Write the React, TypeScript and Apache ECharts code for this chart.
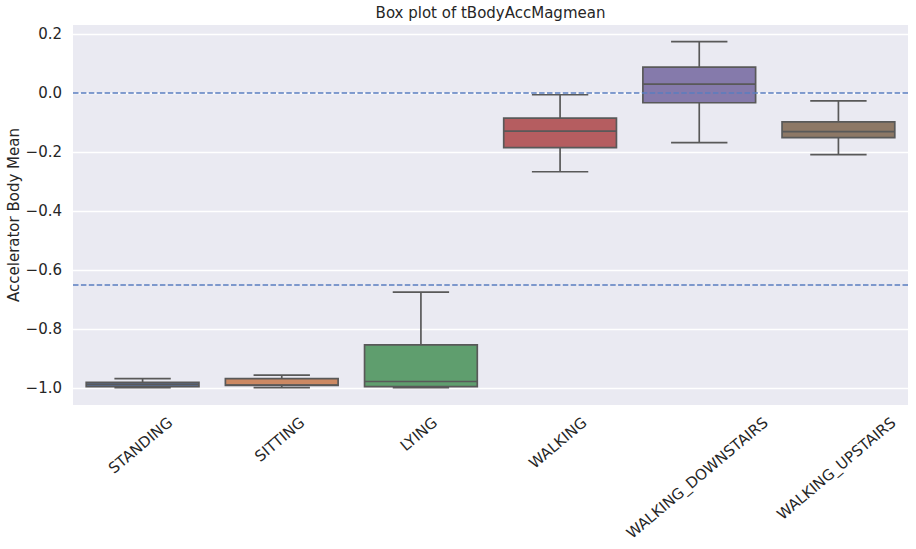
import React, { useEffect, useRef } from 'react';
import * as echarts from 'echarts';

const categories = ['STANDING', 'SITTING', 'LYING', 'WALKING', 'WALKING_DOWNSTAIRS', 'WALKING_UPSTAIRS'];
const whiskerLow = [-0.999, -0.999, -0.999, -0.267, -0.168, -0.209];
const q1 = [-0.995, -0.991, -0.995, -0.185, -0.033, -0.151];
const medians = [-0.988, -0.990, -0.978, -0.129, 0.030, -0.131];
const q3 = [-0.981, -0.968, -0.854, -0.085, 0.088, -0.098];
const whiskerHigh = [-0.968, -0.956, -0.675, -0.006, 0.174, -0.027];
const boxColors = ['#5975a4', '#cc8963', '#5f9e6e', '#b55d60', '#857aab', '#8d7866'];
const yTicks = [-1.0, -0.8, -0.6, -0.4, -0.2, 0.0, 0.2];
const refLines = [0, -0.65];
const yMin = -1.0576;
const yMax = 0.2305;
const titleText = 'Box plot of tBodyAccMagmean';
const yName = 'Accelerator Body Mean';

export default function App() {
  const ref = useRef<HTMLDivElement>(null);
  useEffect(() => {
    const chart = echarts.init(ref.current!, null, { renderer: 'svg' });
    const font = '"DejaVu Sans", sans-serif';
    const textColor = '#262626';
    const edge = '#595959';
    const data = categories.map((c, i) => [i, whiskerLow[i], q1[i], medians[i], q3[i], whiskerHigh[i]]);
    const fmt = (v: number) => (v < -1e-9 ? '\u2212' : '') + Math.abs(v).toFixed(1);

    const renderItem = (params: any, api: any) => {
      const i = api.value(0);
      const lo = api.coord([i, api.value(1)]);
      const b1 = api.coord([i, api.value(2)]);
      const md = api.coord([i, api.value(3)]);
      const b3 = api.coord([i, api.value(4)]);
      const hi = api.coord([i, api.value(5)]);
      const band = api.size([1, 0])[0];
      const bw = band * 0.81;
      const cw = bw / 2;
      const cx = lo[0];
      const ls = { stroke: edge, lineWidth: 1.7 };
      return {
        type: 'group',
        children: [
          { type: 'line', shape: { x1: cx, y1: b3[1], x2: cx, y2: hi[1] }, style: ls },
          { type: 'line', shape: { x1: cx, y1: lo[1], x2: cx, y2: b1[1] }, style: ls },
          { type: 'line', shape: { x1: cx - cw / 2, y1: hi[1], x2: cx + cw / 2, y2: hi[1] }, style: ls },
          { type: 'line', shape: { x1: cx - cw / 2, y1: lo[1], x2: cx + cw / 2, y2: lo[1] }, style: ls },
          {
            type: 'rect',
            shape: { x: cx - bw / 2, y: b3[1], width: bw, height: b1[1] - b3[1] },
            style: { fill: boxColors[params.dataIndex], stroke: edge, lineWidth: 1.7 },
          },
          { type: 'line', shape: { x1: cx - bw / 2, y1: md[1], x2: cx + bw / 2, y2: md[1] }, style: ls },
        ],
      };
    };

    chart.setOption({
      animation: false,
      title: {
        text: titleText,
        left: 490.5,
        textAlign: 'center',
        top: 5,
        padding: 0,
        textStyle: { fontSize: 15, fontWeight: 'normal', color: textColor, fontFamily: font },
      },
      grid: {
        left: 73,
        right: 8,
        top: 25,
        bottom: 144,
        show: true,
        backgroundColor: '#eaeaf2',
        borderWidth: 0,
        containLabel: false,
        outerBoundsMode: 'none',
      },
      xAxis: {
        type: 'category',
        data: categories,
        axisLine: { show: false },
        axisTick: { show: false },
        axisLabel: { show: false },
        splitLine: { show: false },
      },
      yAxis: {
        type: 'value',
        min: yMin,
        max: yMax,
        axisLine: { show: false },
        axisTick: { show: false },
        splitLine: { show: false },
        axisLabel: {
          customValues: yTicks,
          formatter: fmt,
          fontSize: 15,
          color: textColor,
          fontFamily: font,
          margin: 11,
        },
        name: yName,
        nameLocation: 'middle',
        nameGap: 52,
        nameMoveOverlap: false,
        nameTextStyle: { fontSize: 15, color: textColor, fontFamily: font },
      },
      series: [
        {
          type: 'line',
          data: [],
          z: 1,
          silent: true,
          markLine: {
            silent: true,
            symbol: 'none',
            z: 1,
            label: { show: false },
            lineStyle: { color: '#ffffff', width: 1.3, type: 'solid' },
            data: yTicks.map((v) => ({ yAxis: v })),
          },
        },
        {
          type: 'custom',
          z: 3,
          data,
          encode: { x: 0, y: [1, 2, 3, 4, 5] },
          renderItem,
        },
        {
          type: 'line',
          data: [],
          z: 6,
          silent: true,
          markLine: {
            silent: true,
            symbol: 'none',
            z: 6,
            label: { show: false },
            lineStyle: { color: '#5a7ec0', width: 1.5, type: [5.5, 2.4] },
            data: refLines.map((v) => ({ yAxis: v })),
          },
        },
      ],
    });

    const bottomY = chart.convertToPixel({ yAxisIndex: 0 }, yMin) as number;
    const canvas = document.createElement('canvas');
    const ctx = canvas.getContext('2d')!;
    ctx.font = '15px "DejaVu Sans"';
    const a = (40 * Math.PI) / 180;
    const graphics = categories.map((c) => {
      const x = chart.convertToPixel({ xAxisIndex: 0 }, c) as number;
      const w = ctx.measureText(c).width;
      return {
        type: 'text',
        x: x - 2,
        y: bottomY + 15.5 + (w * Math.sin(a)) / 2,
        rotation: a,
        silent: true,
        style: {
          text: c,
          align: 'center',
          verticalAlign: 'middle',
          fontSize: 15,
          fontFamily: font,
          fill: textColor,
        },
      };
    });
    chart.setOption({ graphic: graphics });

    return () => chart.dispose();
  }, []);
  return <div ref={ref} style={{ position: 'absolute', left: 0, top: 0, width: 916, height: 549 }} />;
}
